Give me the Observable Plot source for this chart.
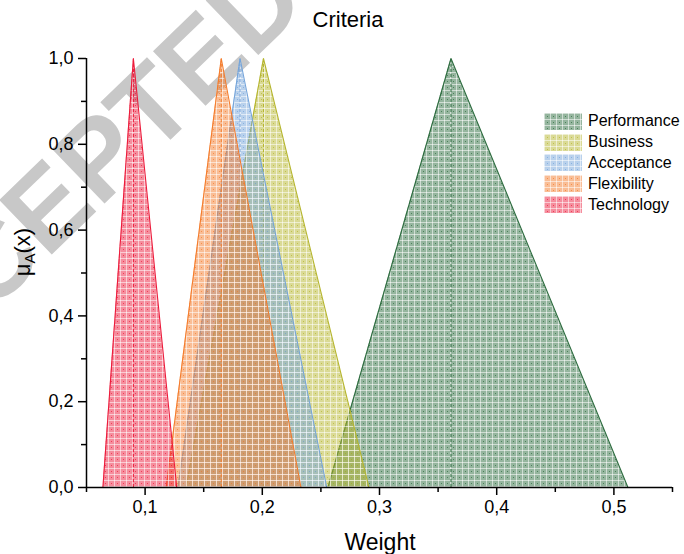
<!DOCTYPE html>
<html>
<head>
<meta charset="utf-8">
<script src="https://cdn.jsdelivr.net/npm/d3@7"></script>
<script src="https://cdn.jsdelivr.net/npm/@observablehq/plot@0.6"></script>
<style>
  html, body { margin: 0; padding: 0; background: #fff; }
  #wrap { position: relative; width: 684px; height: 554px; font-family: "Liberation Sans", Arial, sans-serif; color: #000; overflow: hidden; }
  #mark { position: absolute; left: 0; top: 0; z-index: 0; }
  #title { position: relative; z-index: 1; height: 36px; }
  #title span { position: absolute; left: 348px; top: 8px; transform: translateX(-50%); font-size: 22px; line-height: 24px; white-space: nowrap; }
  #chart { position: relative; z-index: 1; }
  #legend { position: absolute; z-index: 2; left: 544px; top: 111px; }
  .row { display: flex; align-items: center; height: 20.8px; font-size: 16px; }
  .row svg { margin-right: 6px; }
</style>
</head>
<body>
<div id="wrap">
  <svg id="mark" width="684" height="554"></svg>
  <div id="title"><span>Criteria</span></div>
  <div id="chart"></div>
  <div id="legend"></div>
</div>
<script>
// Triangular fuzzy weights (lower, middle, upper) for each criterion
const criteria = ["Performance", "Business", "Acceptance", "Flexibility", "Technology"];
const lower  = [0.256, 0.135, 0.128, 0.118, 0.064];
const middle = [0.361, 0.201, 0.181, 0.165, 0.090];
const upper  = [0.512, 0.291, 0.255, 0.233, 0.127];
const colors = ["#2c6b3e", "#b5b52e", "#74a4da", "#f47c2c", "#ec1b3b"];

const xMajor = [0.1, 0.2, 0.3, 0.4, 0.5];
const xMinor = [0.05, 0.15, 0.25, 0.35, 0.45, 0.55];
const yMajor = [0, 0.2, 0.4, 0.6, 0.8, 1.0];
const yMinor = [0.1, 0.3, 0.5, 0.7, 0.9];

const comma = d => d3.format(".1f")(d).replace(".", ",");

// Cross-hatched translucent fill, one pattern per colour
function patternDefs(prefix) {
  const g = d3.create("svg:defs");
  colors.forEach((c, i) => {
    const p = g.append("pattern")
      .attr("id", `${prefix}${i}`)
      .attr("patternUnits", "userSpaceOnUse")
      .attr("width", 6).attr("height", 6);
    p.append("rect").attr("width", 6).attr("height", 6).attr("fill", c).attr("fill-opacity", 0.5);
    p.append("path").attr("d", "M0 0.5H6M0.5 0V6").attr("stroke", "#fff").attr("stroke-opacity", 0.55).attr("stroke-width", 1);
    p.append("rect").attr("x", 3).attr("y", 3).attr("width", 1).attr("height", 1).attr("fill", c).attr("fill-opacity", 0.7);
  });
  return g.node();
}

const triangles = criteria.map((name, i) => [
  {name, x: lower[i], y: 0},
  {name, x: middle[i], y: 1},
  {name, x: upper[i], y: 0}
]);

const marks = [() => patternDefs("pat-")];
triangles.forEach((pts, i) => {
  marks.push(
    Plot.areaY(pts, {x: "x", y: "y", fill: `url(#pat-${i})`, curve: "linear"}),
    Plot.ruleX([middle[i]], {y1: 0, y2: 1, stroke: colors[i], strokeWidth: 1, strokeDasharray: "3,2"}),
    Plot.line(pts, {x: "x", y: "y", stroke: colors[i], strokeWidth: 1.1})
  );
});

marks.push(
  Plot.ruleY([0], {x1: 0.05, x2: 0.55, stroke: "#000", strokeWidth: 1.5}),
  Plot.ruleX([0.05], {y1: 0, y2: 1, stroke: "#000", strokeWidth: 1.5}),
  Plot.axisX(xMajor, {tickSize: 8, tickPadding: 5, tickFormat: comma, fontSize: 18, strokeWidth: 1.5, label: null}),
  Plot.axisX(xMinor, {tickSize: 5, tickFormat: () => "", strokeWidth: 1.5, label: null}),
  Plot.axisY(yMajor, {tickSize: 8, tickPadding: 5, tickFormat: comma, fontSize: 18, strokeWidth: 1.5, label: null}),
  Plot.axisY(yMinor, {tickSize: 5, tickFormat: () => "", strokeWidth: 1.5, label: null}),
  // Axis titles
  () => {
    const g = d3.create("svg:g").attr("font-family", "Liberation Sans, Arial, sans-serif").attr("fill", "#000");
    g.append("text").attr("x", 380).attr("y", 514).attr("text-anchor", "middle").attr("font-size", 23).text("Weight");
    const t = g.append("text").attr("transform", "translate(30,216) rotate(-90)").attr("text-anchor", "middle").attr("font-size", 22);
    t.append("tspan").text("μ");
    t.append("tspan").attr("font-size", 15).attr("dy", 5).text("A");
    t.append("tspan").attr("dy", -5).text("(x)");
    return g.node();
  }
);

const chart = Plot.plot({
  width: 684,
  height: 518,
  marginLeft: 86,
  marginRight: 12,
  marginTop: 22,
  marginBottom: 67,
  style: {background: "transparent", fontFamily: "Liberation Sans, Arial, sans-serif", color: "#000"},
  x: {domain: [0.05, 0.55]},
  y: {domain: [0, 1]},
  marks
});
document.getElementById("chart").appendChild(chart);

// Legend
const legend = d3.select("#legend");
criteria.forEach((name, i) => {
  const row = legend.append("div").attr("class", "row");
  const s = row.append("svg").attr("width", 38).attr("height", 17);
  s.node().appendChild(patternDefs(`leg-${i}-`));
  s.append("rect").attr("width", 38).attr("height", 17).attr("fill", `url(#leg-${i}-${i})`);
  row.append("span").text(name);
});

// Diagonal watermark behind the chart
d3.select("#mark").append("text")
  .attr("transform", "translate(-125,425) rotate(-44)")
  .attr("font-family", "Liberation Sans, Arial, sans-serif")
  .attr("font-weight", "bold")
  .attr("font-size", 110)
  .attr("fill", "#c8c8c8")
  .text("ACCEPTED");
</script>
</body>
</html>
